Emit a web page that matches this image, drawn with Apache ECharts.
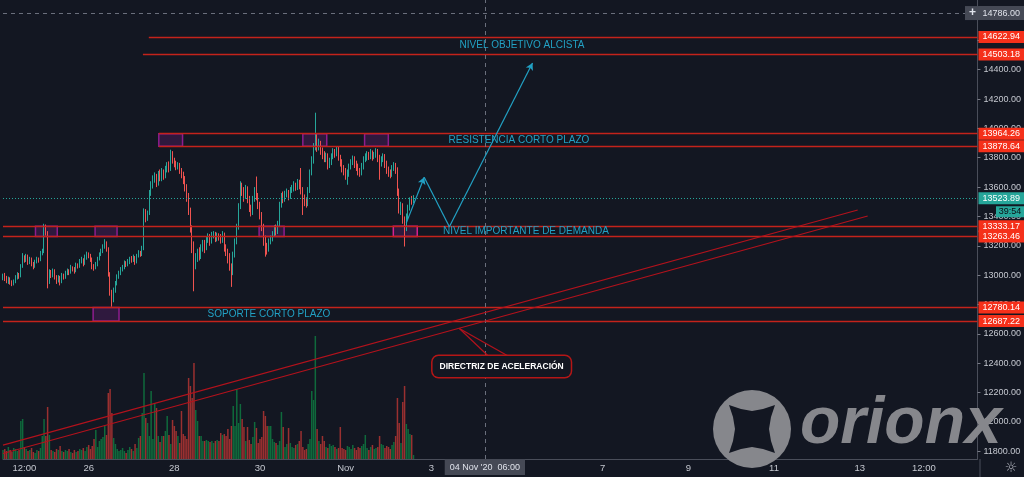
<!DOCTYPE html>
<html><head><meta charset="utf-8">
<script src="https://cdn.jsdelivr.net/npm/echarts@6/dist/echarts.min.js"></script>
<style>html,body{margin:0;padding:0;background:#131722;}#c{width:1024px;height:477px;}</style>
</head><body><div id="c"></div>
<script>
// Hourly BTC candles, hour 0 = 24 Oct 2020 00:00
const firstOpen = 12980;
const closes = [
12995,12980,12960,12975,12950,12940,12955,12985,13000,12990,
13060,13120,13100,13130,13090,13110,13080,13060,13090,13110,
13100,13150,13160,13330,13290,12960,13020,13000,13030,12990,
12970,12985,12960,13000,12990,13010,13030,13020,13050,13040,
13030,13070,13060,13090,13100,13080,13120,13140,13130,13110,
13060,13050,13070,13110,13140,13160,13190,13220,13180,13010,
12880,12830,12900,12940,12990,13010,13040,13050,13080,13070,
13090,13110,13100,13120,13090,13130,13150,13140,13180,13440,
13390,13420,13560,13610,13650,13670,13630,13690,13660,13700,
13680,13720,13750,13720,13830,13780,13760,13740,13750,13710,
13690,13660,13600,13540,13440,13320,13210,13090,13120,13160,
13130,13190,13220,13180,13240,13260,13230,13270,13280,13250,
13270,13260,13240,13270,13190,13160,13130,13060,13020,13140,
13230,13330,13470,13600,13570,13540,13590,13520,13460,13430,
13520,13580,13540,13480,13410,13330,13250,13200,13180,13230,
13250,13280,13320,13300,13350,13480,13540,13520,13550,13560,
13540,13580,13590,13610,13600,13630,13610,13580,13530,13500,
13490,13580,13700,13790,13880,13910,13870,13900,13850,13820,
13800,13810,13750,13770,13810,13840,13830,13860,13800,13770,
13730,13710,13680,13700,13740,13770,13790,13760,13740,13710,
13700,13740,13790,13800,13820,13810,13830,13810,13820,13840,
13800,13770,13790,13810,13760,13720,13700,13690,13730,13750,
13720,13570,13450,13470,13380,13320,13400,13460,13510,13500,
13524];
const highs = [
13010,13015,12995,12990,12985,12965,12970,13000,13020,13015,
13075,13150,13135,13145,13140,13125,13120,13090,13105,13125,
13120,13165,13180,13350,13345,13300,13040,13035,13045,13040,
13000,13000,12995,13015,13010,13030,13045,13040,13070,13060,
13055,13085,13080,13110,13125,13115,13140,13160,13155,13145,
13120,13075,13090,13125,13155,13180,13210,13245,13230,13190,
13020,12900,12915,12960,13005,13030,13055,13070,13100,13095,
13110,13125,13130,13140,13130,13145,13170,13165,13200,13455,
13450,13440,13580,13640,13680,13700,13690,13710,13720,13730,
13720,13745,13770,13775,13855,13845,13800,13780,13770,13765,
13730,13705,13675,13620,13560,13460,13340,13230,13150,13180,
13190,13210,13240,13240,13265,13285,13280,13295,13300,13295,
13290,13285,13280,13300,13290,13210,13180,13150,13080,13160,
13250,13350,13490,13640,13630,13600,13615,13605,13540,13480,
13540,13600,13672,13560,13500,13430,13350,13270,13220,13250,
13270,13300,13340,13345,13370,13500,13560,13570,13575,13590,
13580,13600,13615,13640,13630,13655,13650,13730,13600,13550,
13530,13600,13720,13810,13900,14107,13960,13930,13915,13870,
13845,13835,13830,13800,13830,13865,13860,13880,13875,13820,
13790,13750,13730,13720,13760,13790,13815,13810,13780,13760,
13730,13765,13810,13830,13845,13840,13860,13850,13840,13865,
13860,13820,13810,13830,13825,13780,13740,13720,13750,13770,
13765,13735,13590,13500,13490,13400,13420,13480,13530,13540,
13545];
const lows = [
12965,12960,12945,12940,12935,12925,12930,12945,12970,12975,
12985,13050,13085,13090,13070,13075,13060,13040,13050,13080,
13085,13095,13135,13150,13270,12910,12940,12980,12985,12970,
12940,12950,12930,12945,12970,12975,13000,13000,13010,13025,
13010,13020,13045,13050,13080,13060,13070,13105,13115,13090,
13040,13030,13040,13060,13100,13130,13150,13180,13160,12990,
12860,12785,12815,12880,12930,12975,13000,13025,13040,13055,
13060,13075,13085,13090,13070,13080,13120,13125,13130,13170,
13360,13370,13410,13540,13590,13630,13600,13610,13640,13640,
13650,13660,13700,13700,13710,13760,13735,13715,13720,13690,
13660,13620,13570,13500,13410,13290,13150,12890,13040,13090,
13100,13110,13160,13150,13170,13220,13200,13215,13250,13225,
13230,13235,13215,13220,13160,13130,13080,13030,12920,13000,
13120,13210,13310,13450,13540,13500,13520,13490,13430,13400,
13410,13500,13510,13450,13380,13300,13200,13126,13140,13160,
13210,13230,13260,13270,13280,13330,13460,13490,13500,13530,
13510,13520,13560,13570,13575,13580,13585,13550,13410,13470,
13460,13470,13560,13680,13760,13850,13840,13850,13820,13790,
13770,13770,13720,13730,13750,13790,13800,13810,13780,13740,
13700,13680,13650,13616,13670,13720,13750,13730,13710,13680,
13670,13680,13720,13770,13780,13785,13790,13780,13790,13800,
13770,13650,13740,13770,13730,13690,13670,13660,13670,13710,
13690,13540,13420,13410,13350,13195,13300,13380,13440,13480,
13490];
const volumes = [
90,100,80,120,90,70,110,100,80,90,
380,400,120,100,80,90,110,70,60,90,
80,110,230,400,230,520,240,90,80,70,
100,90,130,80,70,90,80,100,70,60,
90,70,80,100,90,110,80,120,140,100,
130,200,290,120,180,200,220,330,240,660,
700,460,210,150,100,80,90,110,80,60,
90,120,100,80,150,110,210,230,460,860,
410,360,230,680,200,560,510,230,170,230,
230,280,430,240,150,390,330,280,230,160,
480,250,230,200,810,730,610,960,490,380,
230,230,180,180,190,180,170,180,160,180,
190,180,260,240,250,230,300,200,330,530,
330,700,360,550,400,320,180,320,190,150,
220,370,310,160,200,220,480,430,330,330,
330,200,170,160,140,180,470,320,120,150,
310,160,120,110,140,150,180,280,120,90,
100,150,200,680,590,1230,300,180,150,230,
180,120,110,150,130,140,120,100,110,320,
110,100,90,130,120,100,140,110,90,120,
110,130,150,240,110,90,120,140,100,110,
120,230,150,140,110,130,120,100,140,170,
230,610,360,160,570,730,350,300,250,240,
40];

// x-axis tick labels (hour -> label)
const xTickLabels = {12:'12:00',48:'26',96:'28',144:'30',192:'Nov',240:'3',336:'7',384:'9',432:'11',480:'13',516:'12:00'};

// horizontal price levels
const levelValues = [14622.94,14503.18,13964.26,13878.64,13333.17,13263.46,12780.14,12687.22];
const levelStartHours = [81.7,78.4,87.3,87.3,0,0,0,0];

// purple zones
const zoneStartHours = [87.3,168,202.6,18.2,51.6,143.5,218.7,50.5];
const zoneEndHours   = [100.6,181.4,215.9,30.4,63.9,157.5,232.1,65];
const zoneLows  = [13878.64,13878.64,13878.64,13263.46,13263.46,13263.46,13263.46,12687.22];
const zoneHighs = [13964.26,13964.26,13964.26,13333.17,13333.17,13333.17,13333.17,12780.14];

// text notes
const noteTexts = ['NIVEL OBJETIVO ALCISTA','RESISTENCIA CORTO PLAZO','NIVEL IMPORTANTE DE DEMANDA','SOPORTE CORTO PLAZO'];
const noteHours = [290.8,289.1,293,149];
const notePrices = [14565.7,13921.5,13301,12735];

// projected path (arrows)
const pathHours = [226,236,250.1,296.7];
const pathPrices = [13356,13667,13330,14446];

// acceleration trend lines
const trendHoursA = [0,478.9], trendPricesA = [11842,13444];
const trendHoursB = [0,484.5], trendPricesB = [11784.5,13403];

// callout
const calloutText = 'DIRECTRIZ DE ACELERACIÓN';
const calloutHour = 279.4, calloutPrice = 12377.5;
const calloutTipHour = 255.7, calloutTipPrice = 12636.6;
const calloutBaseHours = [271.9,283], calloutBasePrice = 12449;

// crosshair & current price
const crossHour = 270, crossPrice = 14786, crossTimeLabel = "04 Nov '20  06:00";
const lastPrice = 13523.89, countdown = '39:54';

const X_MIN = 0, X_MAX = 546, Y_MIN = 11747, Y_MAX = 14875;
const UP = '#26a69a', DOWN = '#ef5350';
const RED = '#c4231b', RED_LBL = '#f5301a', CYAN = '#22a1c4', TREND = '#b3121c';
const FONT = 'Liberation Sans';

const candleData = closes.map((c, i) => [i, i === 0 ? firstOpen : closes[i - 1], c, lows[i], highs[i]]);
const volData = volumes.map((v, i) => {
  const o = i === 0 ? firstOpen : closes[i - 1];
  return {value: [i, v], itemStyle: {color: closes[i] >= o ? '#0f6a3c' : '#9a3030'}};
});

const lineItems = [];
levelValues.forEach((v, i) => {
  lineItems.push([
    {coord: [levelStartHours[i], v], lineStyle: {color: RED, width: 1.3, type: 'solid'},
     label: {show: true, position: 'end', distance: 1, formatter: v.toFixed(2), backgroundColor: RED_LBL,
             color: '#ffffff', fontSize: 9, fontFamily: FONT, padding: [2, 4, 1, 4]}},
    {coord: [X_MAX, v]}
  ]);
});
lineItems.push([
  {coord: [X_MIN, lastPrice], lineStyle: {color: UP, width: 1, type: [1, 2]},
   label: {show: true, position: 'end', distance: 1, formatter: lastPrice.toFixed(2), backgroundColor: UP,
           color: '#ffffff', fontSize: 9, fontFamily: FONT, padding: [2, 4, 1, 4]}},
  {coord: [X_MAX, lastPrice]}
]);
lineItems.push([
  {coord: [X_MIN, crossPrice], lineStyle: {color: '#6a6f7c', width: 1, type: [4, 4]},
   label: {show: true, position: 'end', distance: 1, formatter: crossPrice.toFixed(2), backgroundColor: '#454955',
           color: '#e0e3eb', fontSize: 9, fontFamily: FONT, padding: [3, 4, 2, 4]}},
  {coord: [X_MAX, crossPrice]}
]);
lineItems.push([
  {coord: [crossHour, Y_MIN], lineStyle: {color: '#6a6f7c', width: 1, type: [4, 4]},
   label: {show: true, position: 'start', distance: 0, formatter: crossTimeLabel, backgroundColor: '#454955',
           color: '#e0e3eb', fontSize: 9, fontFamily: FONT, padding: [4, 5, 3, 5]}},
  {coord: [crossHour, Y_MAX]}
]);
lineItems.push([{coord: [trendHoursA[0], trendPricesA[0]], lineStyle: {color: TREND, width: 1.2, type: 'solid'}}, {coord: [trendHoursA[1], trendPricesA[1]]}]);
lineItems.push([{coord: [trendHoursB[0], trendPricesB[0]], lineStyle: {color: TREND, width: 1.2, type: 'solid'}}, {coord: [trendHoursB[1], trendPricesB[1]]}]);
calloutBaseHours.forEach(h => {
  lineItems.push([{coord: [calloutTipHour, calloutTipPrice], lineStyle: {color: TREND, width: 1.2, type: 'solid'}}, {coord: [h, calloutBasePrice]}]);
});
for (let i = 0; i < pathHours.length - 1; i++) {
  const end = {coord: [pathHours[i + 1], pathPrices[i + 1]]};
  if (i !== 1) { end.symbol = 'arrow'; end.symbolSize = [6, 7]; }
  lineItems.push([{coord: [pathHours[i], pathPrices[i]], lineStyle: {color: CYAN, width: 1.2, type: 'solid'}}, end]);
}

const areaItems = zoneStartHours.map((h, i) => [
  {coord: [h, zoneLows[i]], itemStyle: {color: 'rgba(110,30,120,0.32)', borderColor: i === 6 ? '#d8208f' : '#8e1d8e', borderWidth: 1.5}},
  {coord: [zoneEndHours[i], zoneHighs[i]]}
]);

const pointItems = noteTexts.map((t, i) => ({
  coord: [noteHours[i], notePrices[i]], symbol: 'rect', symbolSize: 1, itemStyle: {color: 'rgba(0,0,0,0)'},
  label: {show: true, position: 'inside', formatter: t, color: CYAN, fontSize: 10, fontFamily: FONT}
}));
pointItems.push({
  coord: [calloutHour, calloutPrice], symbol: 'rect', symbolSize: 1, itemStyle: {color: 'rgba(0,0,0,0)'},
  label: {show: true, position: 'inside', formatter: calloutText, color: '#ffffff', fontWeight: 'bold', fontSize: 8.5,
          fontFamily: FONT, backgroundColor: '#131722', borderColor: '#b51616', borderWidth: 1.5, borderRadius: 6, padding: [6, 7]}
});

const chart = echarts.init(document.getElementById('c'));
chart.setOption({
  backgroundColor: '#131722',
  animation: false,
  textStyle: {fontFamily: FONT},
  grid: {left: 0, right: 44, top: 0, bottom: 18},
  xAxis: {
    type: 'value', min: X_MIN, max: X_MAX, interval: 12,
    axisLine: {show: true, onZero: false, lineStyle: {color: '#4a4e5a'}},
    axisTick: {show: false}, splitLine: {show: false},
    axisLabel: {color: '#c5c8d0', fontSize: 9.5, margin: 4, formatter: v => xTickLabels[v] || ''}
  },
  yAxis: [{
    type: 'value', position: 'right', min: Y_MIN, max: Y_MAX, splitNumber: 15,
    axisLine: {show: true, onZero: false, lineStyle: {color: '#4a4e5a'}},
    axisTick: {show: true, length: 3, lineStyle: {color: '#787b86'}},
    splitLine: {show: false},
    axisLabel: {color: '#c5c8d0', fontSize: 9, margin: 6, showMinLabel: false, showMaxLabel: false, formatter: v => v.toFixed(2)}
  }, {
    type: 'value', min: 0, max: 4590, show: false, position: 'right',
    axisLine: {show: false, onZero: false}, axisTick: {show: false}, axisLabel: {show: false}, splitLine: {show: false}
  }],
  series: [{
    type: 'bar', xAxisIndex: 0, yAxisIndex: 1, data: volData, barWidth: 1.5, silent: true, z: 1
  }, {
    type: 'candlestick', xAxisIndex: 0, yAxisIndex: 0, data: candleData, encode: {x: 0, y: [1, 2, 3, 4]},
    barWidth: 1.3, silent: true,
    itemStyle: {color: UP, color0: DOWN, borderColor: UP, borderColor0: DOWN, borderWidth: 1},
    markArea: {silent: true, data: areaItems},
    markLine: {silent: true, symbol: ['none', 'none'], label: {show: false}, data: lineItems},
    markPoint: {silent: true, data: pointItems}
  }]
});

// chrome: countdown, plus button, gear, watermark
const py = chart.convertToPixel({yAxisIndex: 0}, lastPrice);
const pc = chart.convertToPixel({yAxisIndex: 0}, crossPrice);
chart.setOption({
  graphic: [
    {type: 'rect', shape: {x: 996, y: py + 8, width: 28, height: 11}, style: {fill: UP}, z: 10},
    {type: 'text', x: 1010, y: py + 13.5, style: {text: countdown, fill: '#0b0e14', font: '9px "Liberation Sans"', align: 'center', verticalAlign: 'middle'}, z: 11},
    {type: 'rect', shape: {x: 965, y: pc - 7, width: 15, height: 14}, style: {fill: '#454955'}, z: 10},
    {type: 'text', x: 972.5, y: pc, style: {text: '+', fill: '#e0e3eb', font: 'bold 12px "Liberation Sans"', align: 'center', verticalAlign: 'middle'}, z: 11},
    {type: 'line', shape: {x1: 980, y1: 459, x2: 980, y2: 477}, style: {stroke: '#4a4e5a', lineWidth: 1}},
    {type: 'text', x: 1011, y: 468, style: {text: '☼', fill: '#b2b5be', font: '14px "DejaVu Sans"', align: 'center', verticalAlign: 'middle'}},
    {type: 'circle', shape: {cx: 752, cy: 429, r: 39}, style: {fill: '#86878c'}, z: 20},
    {type: 'polygon', shape: {points: [[729,405],[741,409],[752,411],[763,409],[775,405],[771,417],[769,429],[771,441],[775,453],[763,449],[752,447],[741,449],[729,453],[733,441],[735,429],[733,417]]}, style: {fill: '#131722'}, z: 21},
    {type: 'text', x: 800, y: 425, style: {text: 'orionx', fill: '#86878c', font: 'italic bold 66px "Liberation Sans"', align: 'left', verticalAlign: 'middle'}, z: 20}
  ]
});
</script>
</body></html>
